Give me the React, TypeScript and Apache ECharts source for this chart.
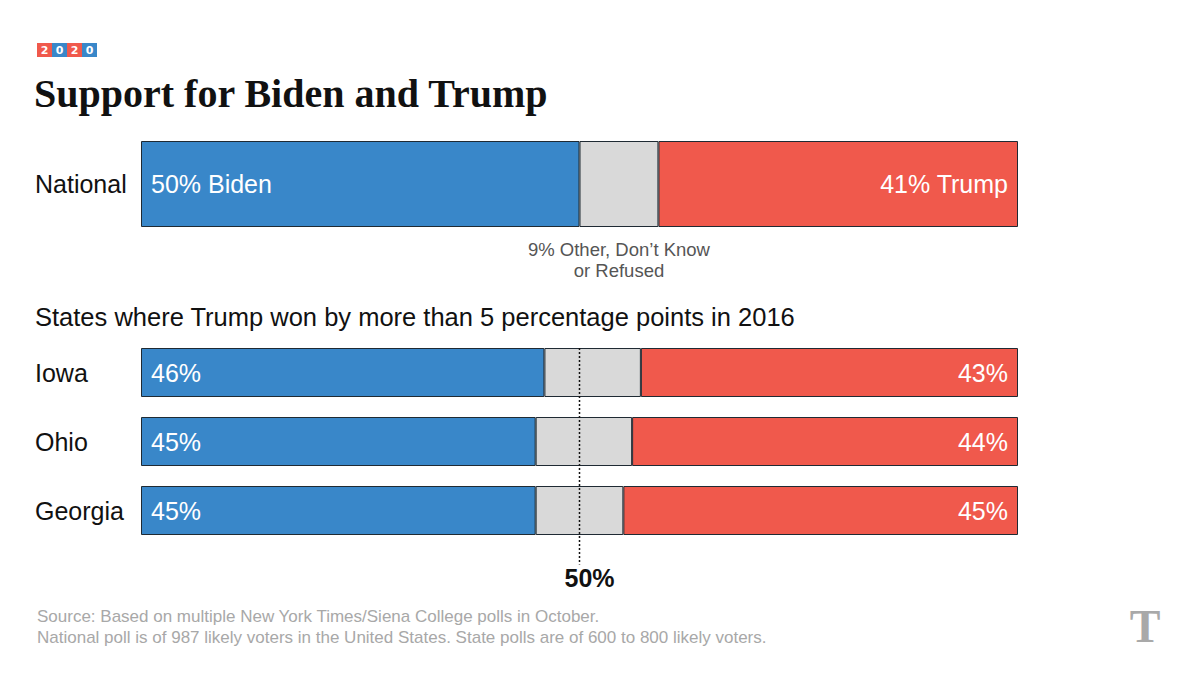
import React, { useEffect, useRef } from "react";
import * as echarts from "echarts";

const nationalCats = ["National"];
const nationalBiden = [50];
const nationalOther = [9];
const nationalTrump = [41];

const stateCats = ["Iowa", "Ohio", "Georgia"];
const stateBiden = [46, 45, 45];
const stateOther = [11, 11, 10];
const stateTrump = [43, 44, 45];

const BLUE = "#3987c9";
const RED = "#f0594c";
const GRAY = "#d9d9d9";
const BORDER = "#1f2a33";
const SANS = "'Liberation Sans', Arial, sans-serif";

export default function App() {
  const ref = useRef<HTMLDivElement>(null);
  useEffect(() => {
    const el = ref.current!;
    const chart = echarts.init(el, undefined, { renderer: "svg" });

    const segStyle = (color: string) => ({
      color,
      borderColor: BORDER,
      borderWidth: 1,
    });

    const mkSeries = (
      name: string,
      data: number[],
      color: string,
      axis: number,
      labelPos: string | null,
      suffix: string,
      barWidth: number
    ) => ({
      type: "bar",
      name,
      data,
      xAxisIndex: axis,
      yAxisIndex: axis,
      stack: "s" + axis,
      barWidth,
      itemStyle: segStyle(color),
      label: labelPos
        ? {
            show: true,
            position: labelPos,
            distance: 10,
            color: "#ffffff",
            fontFamily: SANS,
            fontSize: 25,
            formatter: (p: any) => p.value + "%" + suffix,
          }
        : { show: false },
      silent: true,
    });

    const axisLabel = {
      show: true,
      align: "left",
      margin: 106,
      color: "#111",
      fontFamily: SANS,
      fontSize: 25,
    };

    chart.setOption({
      animation: false,
      backgroundColor: "#ffffff",
      grid: [
        { left: 141, right: 182, top: 141, height: 86 },
        { left: 141, right: 182, top: 338, height: 207 },
      ],
      xAxis: [
        { type: "value", gridIndex: 0, min: 0, max: 100, show: false },
        { type: "value", gridIndex: 1, min: 0, max: 100, show: false },
      ],
      yAxis: [
        {
          type: "category",
          gridIndex: 0,
          data: nationalCats,
          axisLine: { show: false },
          axisTick: { show: false },
          axisLabel,
        },
        {
          type: "category",
          gridIndex: 1,
          data: stateCats,
          inverse: true,
          axisLine: { show: false },
          axisTick: { show: false },
          axisLabel,
        },
      ],
      series: [
        mkSeries("Biden", nationalBiden, BLUE, 0, "insideLeft", " Biden", 86),
        mkSeries("Other", nationalOther, GRAY, 0, null, "", 86),
        mkSeries("Trump", nationalTrump, RED, 0, "insideRight", " Trump", 86),
        mkSeries("Biden", stateBiden, BLUE, 1, "insideLeft", "", 49),
        mkSeries("Other", stateOther, GRAY, 1, null, "", 49),
        mkSeries("Trump", stateTrump, RED, 1, "insideRight", "", 49),
      ],
    });

    // Reference line at 50% in the state grid
    const x50 = chart.convertToPixel({ xAxisIndex: 1 }, 50) as number;
    const yFirst = chart.convertToPixel({ yAxisIndex: 1 }, stateCats[0]) as number;
    const yLast = chart.convertToPixel({ yAxisIndex: 1 }, stateCats[stateCats.length - 1]) as number;
    const natX0 = chart.convertToPixel({ xAxisIndex: 0 }, nationalBiden[0]) as number;
    const natX1 = chart.convertToPixel(
      { xAxisIndex: 0 },
      nationalBiden[0] + nationalOther[0]
    ) as number;
    const natY = chart.convertToPixel({ yAxisIndex: 0 }, nationalCats[0]) as number;

    const logoColors = [RED, BLUE, RED, BLUE];
    const logoDigits = ["2", "0", "2", "0"];
    const logo: any[] = [];
    logoDigits.forEach((d, i) => {
      logo.push({
        type: "rect",
        shape: { x: 37 + i * 15, y: 43, width: 15, height: 14 },
        style: { fill: logoColors[i] },
      });
      logo.push({
        type: "text",
        x: 37 + i * 15 + 7.5,
        y: 50.5,
        style: {
          text: d,
          fill: "#fff",
          font: "bold 11px 'DejaVu Sans', sans-serif",
          align: "center",
          verticalAlign: "middle",
        },
      });
    });

    chart.setOption({
      graphic: [
        ...logo,
        {
          type: "text",
          x: 34,
          y: 93,
          style: {
            text: "Support for Biden and Trump",
            fill: "#111",
            font: "bold 40px 'Liberation Serif', 'Times New Roman', serif",
            verticalAlign: "middle",
          },
        },
        {
          type: "text",
          x: (natX0 + natX1) / 2,
          y: natY + 43 + 33,
          style: {
            text: "9% Other, Don\u2019t Know\nor Refused",
            fill: "#555",
            font: "18.5px " + SANS,
            align: "center",
            verticalAlign: "middle",
            lineHeight: 21,
          },
        },
        {
          type: "text",
          x: 35,
          y: 317,
          style: {
            text: "States where Trump won by more than 5 percentage points in 2016",
            fill: "#111",
            font: "25.5px " + SANS,
            verticalAlign: "middle",
          },
        },
        {
          type: "line",
          shape: { x1: x50, y1: yFirst - 24.5, x2: x50, y2: yLast + 54 },
          style: { stroke: "#111", lineWidth: 1.5, lineDash: [2, 2] },
          z: 100,
        },
        {
          type: "text",
          x: x50 + 10,
          y: 578,
          style: {
            text: "50%",
            fill: "#111",
            font: "bold 25px " + SANS,
            align: "center",
            verticalAlign: "middle",
          },
        },
        {
          type: "text",
          x: 37,
          y: 627,
          style: {
            text:
              "Source: Based on multiple New York Times/Siena College polls in October.\nNational poll is of 987 likely voters in the United States. State polls are of 600 to 800 likely voters.",
            fill: "#a8a8a8",
            font: "17px " + SANS,
            verticalAlign: "middle",
            lineHeight: 21,
          },
        },
        {
          type: "text",
          x: 1145,
          y: 626,
          style: {
            text: "T",
            fill: "#a9a9a9",
            font: "bold 46px 'Liberation Serif', serif",
            align: "center",
            verticalAlign: "middle",
          },
        },
      ],
    });

    return () => chart.dispose();
  }, []);

  return (
    <div
      ref={ref}
      style={{ position: "absolute", left: 0, top: 0, width: 1200, height: 675 }}
    />
  );
}
